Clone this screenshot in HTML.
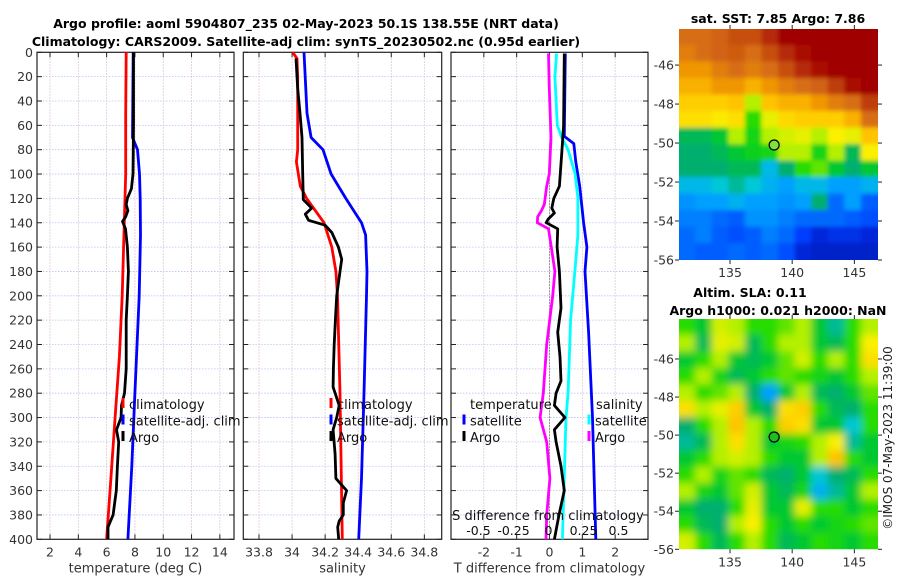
<!DOCTYPE html>
<html><head><meta charset="utf-8"><style>
html,body{margin:0;padding:0;background:#fff;}
svg{display:block;font-family:"DejaVu Sans","Liberation Sans",sans-serif;}
</style></head><body>
<svg id="fig" width="900" height="580" viewBox="0 0 900 580" xmlns="http://www.w3.org/2000/svg">
<text x="306" y="28" font-size="12.5" font-weight="bold" text-anchor="middle" fill="#000">Argo profile: aoml 5904807_235 02-May-2023 50.1S 138.55E (NRT data)</text>
<text x="306" y="46" font-size="12.5" font-weight="bold" text-anchor="middle" fill="#000">Climatology: CARS2009. Satellite-adj clim: synTS_20230502.nc (0.95d earlier)</text>
<text x="778" y="23" font-size="12.5" font-weight="bold" text-anchor="middle">sat. SST: 7.85 Argo: 7.86</text>
<text x="750" y="297" font-size="12.5" font-weight="bold" text-anchor="middle">Altim. SLA: 0.11</text>
<text x="778" y="315" font-size="12.5" font-weight="bold" text-anchor="middle">Argo h1000: 0.021 h2000: NaN</text>
<text transform="translate(892,438) rotate(-90)" font-size="12" text-anchor="middle" fill="#222">©IMOS 07-May-2023 11:39:00</text>
<g id="plots"></g>
</svg>
<script>
// ---- profile data ----
const depthClim = [0,50,100,120,160,200,250,300,350,400];
const tempClim = [7.38,7.35,7.35,7.3,7.2,7.1,6.9,6.6,6.3,6.0];
const depthSatT = [0,70,80,100,120,150,200,280,340,400];
const tempSat = [7.88,7.83,8.18,8.32,8.37,8.39,8.3,8.0,7.78,7.5];
const depthArgoT = [0,60,100,112,120,125,130,135,139,145,160,180,200,220,260,280,290,300,310,320,340,360,380,390,400];
const tempArgo = [7.9,7.9,7.86,7.75,7.47,7.38,7.5,7.35,7.12,7.33,7.47,7.54,7.47,7.38,7.38,7.26,7.05,7.02,6.7,6.85,6.76,6.68,6.46,6.1,6.1];

const depthSalClim = [0,5,20,80,90,110,120,140,160,180,200,280,400];
const salClim = [34.004,34.03,34.034,34.034,34.026,34.05,34.088,34.193,34.24,34.265,34.275,34.29,34.304];
const depthSalSat = [0,50,70,80,100,120,140,150,180,200,280,350,400];
const salSat = [34.072,34.09,34.115,34.187,34.236,34.325,34.42,34.445,34.453,34.45,34.435,34.42,34.403];
const depthSalArgo = [5,30,50,70,100,121,128,133,138,142,148,160,170,180,200,220,240,260,275,290,300,310,330,350,360,370,380,385,390,400];
const salArgo = [34.024,34.034,34.048,34.06,34.064,34.068,34.119,34.08,34.1,34.2,34.24,34.28,34.3,34.29,34.27,34.262,34.255,34.25,34.248,34.285,34.27,34.248,34.26,34.265,34.33,34.31,34.31,34.285,34.276,34.282];

const depthDiffSatT = [1,69,75,90,110,140,160,180,230,300,400];
const diffSatT = [0.48,0.45,0.74,0.8,0.92,1.04,1.14,1.08,1.19,1.31,1.41];
const depthDiffSatS = [1,20,60,70,80,100,120,150,170,220,280,300,400];
const diffSatS = [0.058,0.046,0.063,0.094,0.14,0.19,0.21,0.21,0.196,0.158,0.14,0.125,0.099];
const depthDiffArgoT = [1,60,80,110,120,128,132,137,140,145,160,180,210,230,250,270,280,290,300,310,320,340,360,380,400];
const diffArgoT = [0.45,0.43,0.38,0.3,0.13,0.07,0.15,-0.04,-0.1,0.25,0.23,0.3,0.35,0.25,0.32,0.35,0.2,0.15,0.47,0.15,0.2,0.35,0.45,0.29,0.15];
const depthDiffArgoS = [1,30,70,100,110,125,130,135,140,145,160,180,200,240,280,300,320,350,380,400];
const diffArgoS = [0,0.006,0.018,0.006,-0.013,-0.03,-0.05,-0.077,-0.08,0,0.02,0.046,0.03,-0.013,-0.037,-0.06,-0.013,0.01,-0.013,-0.018];

const depthTicks = [0,20,40,60,80,100,120,140,160,180,200,220,240,260,280,300,320,340,360,380,400];
const tempTicks = [2,4,6,8,10,12,14];
const salTicks = [33.8,34,34.2,34.4,34.6,34.8];
const salTickLabels = ["33.8","34","34.2","34.4","34.6","34.8"];
const tDiffTicks = [-2,-1,0,1,2];
const sDiffTicks = [-0.5,-0.25,0,0.25,0.5];
const sDiffLabels = ["-0.5","-0.25","0","0.25","0.5"];

// ---- map data (colormap fraction) ----
const sstGrid = [
[.8,.8,.82,.85,.85,.9,.95,.95,.95,.95,.95,.95],
[.78,.8,.82,.83,.8,.85,.9,.93,.95,.95,.95,.95],
[.75,.75,.78,.8,.78,.8,.85,.9,.93,.95,.95,.95],
[.72,.72,.75,.75,.72,.75,.78,.8,.82,.88,.93,.95],
[.68,.68,.68,.7,.55,.7,.72,.72,.75,.78,.8,.88],
[.65,.65,.63,.65,.5,.6,.66,.68,.68,.68,.72,.8],
[.42,.42,.45,.55,.48,.55,.58,.6,.55,.62,.6,.7],
[.4,.4,.42,.45,.47,.48,.55,.55,.48,.55,.42,.62],
[.4,.4,.4,.42,.42,.33,.4,.5,.52,.45,.4,.45],
[.33,.33,.35,.38,.35,.32,.3,.33,.33,.3,.3,.32],
[.28,.3,.3,.32,.3,.3,.28,.3,.4,.22,.3,.2],
[.25,.25,.22,.2,.28,.28,.25,.22,.22,.22,.2,.18],
[.22,.25,.2,.18,.2,.25,.22,.15,.1,.12,.12,.1],
[.22,.2,.2,.22,.2,.22,.18,.1,.08,.08,.08,.08]];
const slaGrid = [
[.5,.45,.58,.55,.5,.5,.52,.55,.45,.38,.5,.55],
[.55,.42,.6,.58,.42,.5,.55,.55,.45,.42,.5,.62],
[.45,.5,.55,.45,.42,.45,.52,.58,.5,.55,.5,.65],
[.5,.55,.48,.42,.45,.5,.52,.5,.48,.45,.5,.55],
[.55,.5,.52,.55,.4,.3,.45,.55,.42,.4,.45,.52],
[.65,.55,.6,.68,.45,.4,.65,.68,.5,.42,.4,.5],
[.4,.5,.55,.7,.55,.5,.68,.65,.45,.45,.35,.5],
[.38,.42,.55,.65,.55,.45,.48,.5,.55,.62,.38,.45],
[.45,.5,.55,.58,.55,.5,.45,.45,.55,.7,.5,.45],
[.5,.55,.48,.52,.5,.42,.4,.45,.35,.4,.42,.5],
[.55,.48,.45,.52,.58,.45,.42,.48,.32,.38,.45,.55],
[.45,.4,.4,.5,.6,.45,.45,.6,.5,.5,.45,.5],
[.5,.42,.4,.55,.62,.5,.45,.5,.45,.48,.5,.52],
[.58,.5,.42,.5,.55,.5,.42,.45,.5,.48,.45,.5]];
const lonTicks = [135,140,145];
const latTicks = [-46,-48,-50,-52,-54,-56];
const argoLon = 138.55, argoLat = -50.1;

const NS = "http://www.w3.org/2000/svg";
const root = document.getElementById('plots');
function mk(tag, attrs, parent){const e=document.createElementNS(NS,tag);for(const k in attrs)e.setAttribute(k,attrs[k]);(parent||root).appendChild(e);return e;}
function txt(s, attrs, parent){const e=mk('text',attrs,parent);e.textContent=s;return e;}

const Y0=52.3, Y1=539.3;
const yD = d => Y0 + (d/400)*(Y1-Y0);
function lin(d0,d1,r0,r1){return v=>r0+(v-d0)/(d1-d0)*(r1-r0);}

function panel(name, x0, x1, xs, xTicks, xLabels, xTitle, showY){
  const g = mk('g',{});
  
  
  depthTicks.forEach(d=>{ if(d>0&&d<400){const l=mk('line',{x1:x0,x2:x1,y1:yD(d),y2:yD(d),stroke:'#b8c4ee','stroke-width':0.8,'stroke-dasharray':'1.5,1.5'},g);
    
    }});
  xTicks.forEach(v=>{const l=mk('line',{x1:xs(v),x2:xs(v),y1:Y0,y2:Y1,stroke:'#d8b8c8','stroke-width':0.8,'stroke-dasharray':'1.5,1.5'},g);
    
    });
  depthTicks.forEach(d=>{
    mk('line',{x1:x0,x2:x0+5,y1:yD(d),y2:yD(d),stroke:'#222'},g);
    mk('line',{x1:x1-5,x2:x1,y1:yD(d),y2:yD(d),stroke:'#222'},g);
    if(showY){const t=txt(String(d),{x:x0-4,y:yD(d)+4.5,'font-size':12.5,'text-anchor':'end',fill:'#333'},g);
      
      }
  });
  xTicks.forEach((v,i)=>{
    mk('line',{x1:xs(v),x2:xs(v),y1:Y1,y2:Y1-5,stroke:'#222'},g);
    mk('line',{x1:xs(v),x2:xs(v),y1:Y0,y2:Y0+5,stroke:'#222'},g);
    const t=txt(xLabels[i],{x:xs(v),y:Y1+17,'font-size':12.5,'text-anchor':'middle',fill:'#333'},g);
    
    
  });
  const tt=txt(xTitle,{x:(x0+x1)/2,y:Y1+33,'font-size':13,'text-anchor':'middle',fill:'#333'},g);
  
  
  const fr=mk('rect',{x:x0,y:Y0,width:x1-x0,height:Y1-Y0,fill:'none',stroke:'#222','stroke-width':1.2},g);
  
  
  return g;
}
function series(g, name, depths, vals, xs, color, w){
  const pts = depths.map((d,i)=>xs(vals[i]).toFixed(1)+','+yD(d).toFixed(1)).join(' ');
  const p = mk('polyline',{points:pts,fill:'none',stroke:color,'stroke-width':w||2.8,'stroke-linejoin':'round'},g);
  
  
}
function legend(g, items, x, y0){
  items.forEach((it,i)=>{
    const y=y0+i*16.5;
    mk('rect',{x:x-1.5,y:y-11,width:3,height:10,fill:it[1]},g);
    const t=txt(it[0],{x:x+6,y:y,'font-size':13,fill:'#111'},g);
    
    
  });
}

const xT = lin(1.08,15.0,37,234);
const g1 = panel('temperature-panel',37,234,xT,tempTicks,tempTicks.map(String),'temperature (deg C)',true);
series(g1,'temp-climatology-line',depthClim,tempClim,xT,'#f00');
series(g1,'temp-satellite-line',depthSatT,tempSat,xT,'#00f');
series(g1,'temp-argo-line',depthArgoT,tempArgo,xT,'#000');
legend(g1,[['climatology','#f00'],['satellite-adj. clim','#00f'],['Argo','#000']],123,409);

const xS = lin(33.705,34.905,243.3,441.7);
const g2 = panel('salinity-panel',243.3,441.7,xS,salTicks,salTickLabels,'salinity',false);
series(g2,'sal-climatology-line',depthSalClim,salClim,xS,'#f00');
series(g2,'sal-satellite-line',depthSalSat,salSat,xS,'#00f');
series(g2,'sal-argo-line',depthSalArgo,salArgo,xS,'#000');
legend(g2,[['climatology','#f00'],['satellite-adj. clim','#00f'],['Argo','#000']],331,409);

const xDT = lin(-3,3,451,648);
const xDS = v => 548.5 + v*140;
const g3 = panel('difference-panel',451,648,xDT,tDiffTicks,tDiffTicks.map(String),'T difference from climatology',false);
mk('line',{x1:xDT(0),x2:xDT(0),y1:yD(75),y2:Y1,stroke:'#555','stroke-width':1,'stroke-dasharray':'1,2'},g3);
series(g3,'diff-sat-temp-line',depthDiffSatT,diffSatT,xDT,'#00f');
series(g3,'diff-sat-sal-line',depthDiffSatS,diffSatS,xDS,'#0ff');
series(g3,'diff-argo-sal-line',depthDiffArgoS,diffArgoS,xDS,'#f0f');
series(g3,'diff-argo-temp-line',depthDiffArgoT,diffArgoT,xDT,'#000');
const tl=txt('temperature',{x:470,y:409,'font-size':13,fill:'#111'},g3);


legend(g3,[['satellite','#00f'],['Argo','#000']],464,425.5);
const sl=txt('salinity',{x:596,y:409,'font-size':13,fill:'#111'},g3);


legend(g3,[['satellite','#0ff'],['Argo','#f0f']],589,425.5);
const st=txt('S difference from climatology',{x:548,y:520,'font-size':13,'text-anchor':'middle',fill:'#111'},g3);


sDiffTicks.forEach((v,i)=>{
  const t=txt(sDiffLabels[i],{x:xDS(v),y:535,'font-size':12.5,'text-anchor':'middle',fill:'#111'},g3);
  
  
});

// ---- maps ----
const cmapStops = [0,.15,.3,.35,.4,.45,.5,.55,.62,.7,.75,.8,.88,.95,1];
const cmapColors = [[0,0,140],[0,60,255],[0,160,255],[0,200,215],[0,175,110],[0,200,50],[40,220,0],[180,240,0],[250,240,0],[255,195,0],[240,150,0],[215,110,20],[190,60,10],[160,0,0],[140,0,0]];
function cmap(v){
  for(let i=1;i<cmapStops.length;i++){
    if(v<=cmapStops[i]){const t=(v-cmapStops[i-1])/(cmapStops[i]-cmapStops[i-1]);
      const a=cmapColors[i-1],b=cmapColors[i];
      return 'rgb('+a.map((c,k)=>Math.round(c+(b[k]-c)*t)).join(',')+')';}
  }
  return 'rgb(140,0,0)';
}
const defs = mk('defs',{});
function map(name, grid, x0,y0,x1,y1, latTop, latBot, markerFill, blurAmt){
  const g = mk('g',{});
  
  
  const fid = name+'-blur';
  const f = mk('filter',{id:fid,x:'-5%',y:'-5%',width:'110%',height:'110%'},defs);
  mk('feGaussianBlur',{stdDeviation:String(blurAmt)},f);
  const cid = name+'-clip';
  const cp = mk('clipPath',{id:cid},defs);
  mk('rect',{x:x0,y:y0,width:x1-x0,height:y1-y0},cp);
  const cg = mk('g',{'clip-path':'url(#'+cid+')'},g);
  const inner = mk('g',{filter:'url(#'+fid+')'},cg);
  const rows=grid.length, cols=grid[0].length;
  const cw=(x1-x0)/cols, ch=(y1-y0)/rows;
  grid.forEach((row,r)=>row.forEach((v,c)=>{
    mk('rect',{x:x0+c*cw-0.5-(c==0?8:0),y:y0+r*ch-0.5-(r==0?8:0),width:cw+1+(c==0||c==cols-1?8:0),height:ch+1+(r==0||r==rows-1?8:0),fill:cmap(v)},inner);
  }));
  const lonS = lin(130.9,146.9,x0,x1);
  const latS = lin(latTop,latBot,y0,y1);
  lonTicks.forEach(v=>{
    mk('line',{x1:lonS(v),x2:lonS(v),y1:y1,y2:y1+4,stroke:'#222'},g);
    mk('line',{x1:lonS(v),x2:lonS(v),y1:y0,y2:y0-4,stroke:'#222'},g);
    const t=txt(String(v),{x:lonS(v),y:y1+17,'font-size':12.5,'text-anchor':'middle',fill:'#333'},g);
    
    
  });
  latTicks.forEach(v=>{
    mk('line',{x1:x0,x2:x0-4,y1:latS(v),y2:latS(v),stroke:'#222'},g);
    mk('line',{x1:x1,x2:x1+4,y1:latS(v),y2:latS(v),stroke:'#222'},g);
    const t=txt(String(v),{x:x0-5,y:latS(v)+4.5,'font-size':12.5,'text-anchor':'end',fill:'#333'},g);
    
    
  });
  const m=mk('circle',{cx:lonS(argoLon),cy:latS(argoLat),r:5,fill:markerFill,stroke:'#000','stroke-width':1.2},g);
  
  
}
map('sst-map',sstGrid,679,29,878,260,-44.15,-56,'#7fe040',2);
map('sla-map',slaGrid,679,319,878,549.3,-43.9,-56,'#22bb22',4);
</script>
</body></html>
